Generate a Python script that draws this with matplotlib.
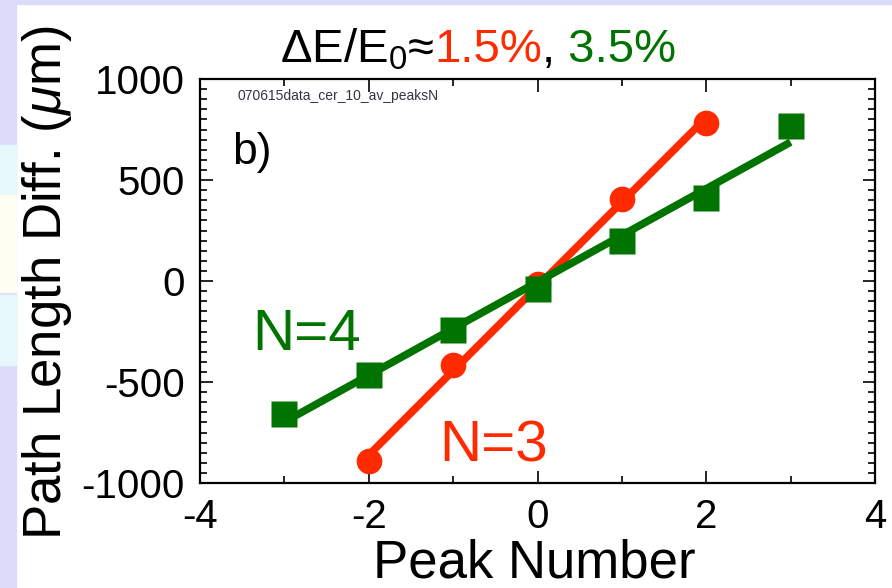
import numpy as np
import matplotlib
matplotlib.use("Agg")
import matplotlib.pyplot as plt
from matplotlib.patches import Rectangle

# ---- data ----
peaks_n3 = [-2, -1, 0, 1, 2]
diff_n3 = [-892, -417, -15, 407, 784]
peaks_n4 = [-3, -2, -1, 0, 1, 2, 3]
diff_n4 = [-657, -466, -245, -39, 196, 412, 765]
xticks = [-4, -2, 0, 2, 4]
yticks = [-1000, -500, 0, 500, 1000]

RED = "#ff2a00"
GREEN = "#007300"
FONT = "Liberation Sans"

plt.rcParams["font.family"] = [FONT, "DejaVu Sans"]
plt.rcParams["mathtext.fontset"] = "custom"
plt.rcParams["mathtext.rm"] = FONT
plt.rcParams["mathtext.it"] = FONT + ":italic"
plt.rcParams["axes.unicode_minus"] = False

W, H = 892, 588
fig = plt.figure(figsize=(W / 100, H / 100), dpi=100)
fig.patch.set_facecolor("white")

# slide background strips
lav = "#dcdcfa"
fig.patches.append(Rectangle((0, 0), 16 / W, 1, transform=fig.transFigure, color=lav, zorder=0))
fig.patches.append(Rectangle((0, 1 - 4 / H), 1, 4 / H, transform=fig.transFigure, color=lav, zorder=0))
fig.patches.append(Rectangle((0, 1 - 195 / H), 16 / W, 50 / H, transform=fig.transFigure, color="#e6f8fc", zorder=0))
fig.patches.append(Rectangle((0, 1 - 292 / H), 16 / W, 97 / H, transform=fig.transFigure, color="#fffef2", zorder=0))
fig.patches.append(Rectangle((0, 1 - 365 / H), 16 / W, 70 / H, transform=fig.transFigure, color="#e6f8fc", zorder=0))

ax = fig.add_axes([200 / W, 1 - 483 / H, 675 / W, 404 / H])

# fits
p3 = np.polyfit(peaks_n3, diff_n3, 1)
p4 = np.polyfit(peaks_n4, diff_n4, 1)
x3 = np.array([min(peaks_n3), max(peaks_n3)])
x4 = np.array([min(peaks_n4), max(peaks_n4)])

ax.plot(x3, np.polyval(p3, x3), color=RED, lw=5.5, solid_capstyle="butt", zorder=2)
ax.plot(peaks_n3, diff_n3, "o", color=RED, ms=18.5, mec="none", zorder=3)
ax.plot(x4, np.polyval(p4, x4), color=GREEN, lw=5.5, solid_capstyle="butt", zorder=4)
ax.plot(peaks_n4, diff_n4, "s", color=GREEN, ms=18.5, mec="none", zorder=5)

ax.set_xlim(-4, 4)
ax.set_ylim(-1000, 1000)
ax.set_xticks(xticks)
ax.set_yticks(yticks)
ax.set_xticks(np.arange(-3, 4, 2), minor=True)
ax.set_yticks(np.arange(-1000, 1001, 50), minor=True)
ax.tick_params(which="both", direction="in", top=True, right=True, width=1.2, color="black")
ax.tick_params(which="major", length=9, labelsize=29, pad=11)
ax.tick_params(which="minor", length=5)
for s in ax.spines.values():
    s.set_linewidth(1.6)

# labels
fig.text(47 / W, 1 - 283 / H, "Path Length Diff. ($\\mathit{\\mu}$m)", rotation=90,
         ha="center", va="center", fontsize=38)
fig.text(534 / W, 1 - 578 / H, "Peak Number", ha="center", va="baseline", fontsize=38)

ax.text(-3.38, -342, "N=4", color=GREEN, fontsize=42, ha="left", va="baseline")
ax.text(-1.16, -896, "N=3", color=RED, fontsize=42, ha="left", va="baseline")
ax.text(0.048, 0.79, "b)", transform=ax.transAxes, fontsize=32, ha="left", va="baseline")
ax.text(0.056, 0.948, "070615data_cer_10_av_peaksN", transform=ax.transAxes,
        fontsize=10, color="#333344", ha="left", va="baseline",
        family=["Liberation Sans Narrow", FONT])

# multi-colour title
fig.canvas.draw()
r = fig.canvas.get_renderer()
x0 = 280 / W
yb = 1 - 62 / H
parts = [("$\\Delta$E/E$_0$\u2248", "black"), ("1.5%", RED), (",", "black"), (" 3.5%", GREEN)]
for s, c in parts:
    t = fig.text(x0, yb, s, color=c, fontsize=34, ha="left", va="baseline")
    bb = t.get_window_extent(renderer=r)
    x0 = bb.x1 / W

fig.savefig("out.png", dpi=100, facecolor=fig.get_facecolor())
